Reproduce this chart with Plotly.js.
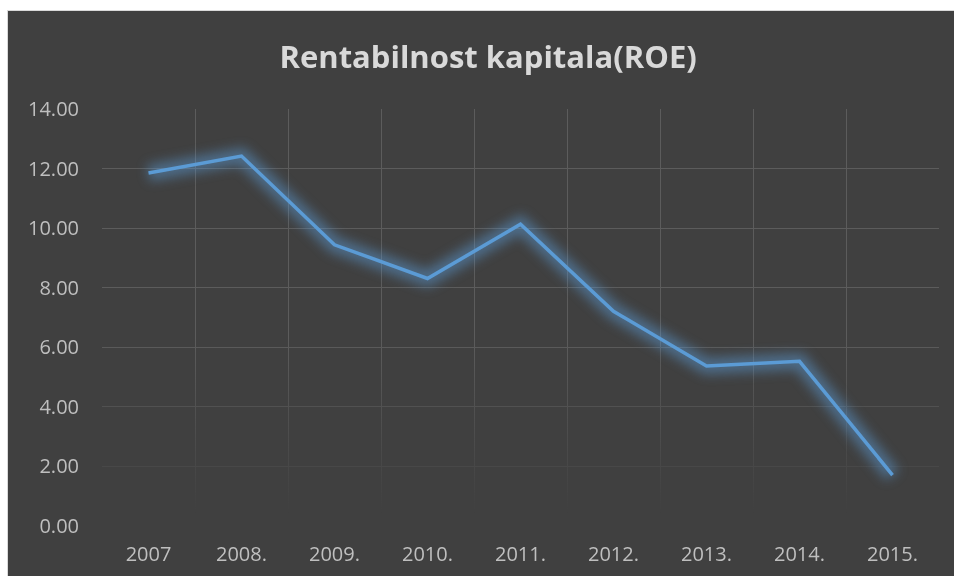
<!DOCTYPE html>
<html>
<head>
<meta charset="utf-8">
<script src="https://cdn.plot.ly/plotly-3.0.1.min.js"></script>
<style>
  html, body { margin: 0; padding: 0; background: #ffffff; width: 954px; height: 576px; overflow: hidden; }
  #chart { position: absolute; left: 7px; top: 10px; width: 947px; height: 566px; border-left: 1px solid #d9d9d9; border-top: 1px solid #d9d9d9; box-sizing: border-box; }
</style>
</head>
<body>
<div id="chart"></div>
<script>
const years = ["2007", "2008.", "2009.", "2010.", "2011.", "2012.", "2013.", "2014.", "2015."];
const roe = [11.85, 12.42, 9.44, 8.31, 10.13, 7.21, 5.37, 5.53, 1.71];
const yTicks = [0, 2, 4, 6, 8, 10, 12, 14];

const lineColor = "#5B9BD5";

const glow = {
  x: years, y: roe, type: "scatter", mode: "lines",
  line: { color: lineColor, width: 16 }, opacity: 0.5,
  hoverinfo: "skip", showlegend: false
};
const main = {
  x: years, y: roe, type: "scatter", mode: "lines",
  line: { color: lineColor, width: 3.5 },
  showlegend: false, name: "ROE"
};

const layout = {
  width: 947, height: 566,
  paper_bgcolor: "#404040", plot_bgcolor: "#404040",
  margin: { l: 94, r: 16, t: 98, b: 51 },
  title: {
    text: "<b>Rentabilnost kapitala(ROE)</b>",
    font: { family: "Open Sans, sans-serif", size: 31, color: "#D9D9D9" },
    x: 0.507, xanchor: "center", y: 0.918, yanchor: "middle", xref: "container", yref: "container"
  },
  xaxis: {
    type: "category", tickson: "boundaries", range: [-0.5, 8.5],
    showgrid: true, gridcolor: "#5c5c5c", gridwidth: 1,
    zeroline: false, showline: false, ticks: "",
    tickfont: { family: "Open Sans, sans-serif", size: 20, color: "#BFBFBF" },
    ticklabelstandoff: 14, fixedrange: true
  },
  yaxis: {
    range: [0, 14], tickvals: yTicks, tickformat: ".2f",
    showgrid: true, gridcolor: "#5c5c5c", gridwidth: 1,
    zeroline: false, showline: false, ticks: "",
    tickfont: { family: "Open Sans, sans-serif", size: 20, color: "#BFBFBF" },
    ticklabelstandoff: 22, fixedrange: true
  },
  showlegend: false
};

Plotly.newPlot("chart", [glow, main], layout, { displayModeBar: false, staticPlot: true }).then(function (gd) {
  const svg = gd.querySelector("svg.main-svg");
  const NS = "http://www.w3.org/2000/svg";
  let defs = svg.querySelector("defs");
  if (!defs) { defs = document.createElementNS(NS, "defs"); svg.insertBefore(defs, svg.firstChild); }
  const fs = gd._fullLayout._size;
  const W = gd._fullLayout.width, H = gd._fullLayout.height;
  // fading mask for gridlines
  const grad = document.createElementNS(NS, "linearGradient");
  grad.setAttribute("id", "gridFade");
  grad.setAttribute("gradientUnits", "userSpaceOnUse");
  grad.setAttribute("x1", "0"); grad.setAttribute("x2", "0");
  grad.setAttribute("y1", String(fs.t + fs.h * 0.55));
  grad.setAttribute("y2", String(fs.t + fs.h * 0.97));
  [["0", "1"], ["1", "0"]].forEach(function (s) {
    const st = document.createElementNS(NS, "stop");
    st.setAttribute("offset", s[0]);
    st.setAttribute("stop-color", "white");
    st.setAttribute("stop-opacity", s[1]);
    grad.appendChild(st);
  });
  defs.appendChild(grad);
  const mask = document.createElementNS(NS, "mask");
  mask.setAttribute("id", "gridMask");
  mask.setAttribute("maskUnits", "userSpaceOnUse");
  mask.setAttribute("x", "0"); mask.setAttribute("y", "0");
  mask.setAttribute("width", String(W));
  mask.setAttribute("height", String(H));
  const r = document.createElementNS(NS, "rect");
  r.setAttribute("x", "0"); r.setAttribute("y", "0");
  r.setAttribute("width", String(W));
  r.setAttribute("height", String(H));
  r.setAttribute("fill", "url(#gridFade)");
  mask.appendChild(r);
  defs.appendChild(mask);
  const gl = svg.querySelector(".gridlayer");
  if (gl) gl.setAttribute("mask", "url(#gridMask)");
  // blur filter for glow
  const filt = document.createElementNS(NS, "filter");
  filt.setAttribute("id", "glowBlur");
  filt.setAttribute("filterUnits", "userSpaceOnUse");
  filt.setAttribute("x", "0"); filt.setAttribute("y", "0");
  filt.setAttribute("width", String(W)); filt.setAttribute("height", String(H));
  const blur = document.createElementNS(NS, "feGaussianBlur");
  blur.setAttribute("stdDeviation", "6");
  filt.appendChild(blur);
  defs.appendChild(filt);
  const traces = svg.querySelectorAll(".scatterlayer .trace");
  if (traces.length) traces[0].setAttribute("filter", "url(#glowBlur)");
});
</script>
</body>
</html>
